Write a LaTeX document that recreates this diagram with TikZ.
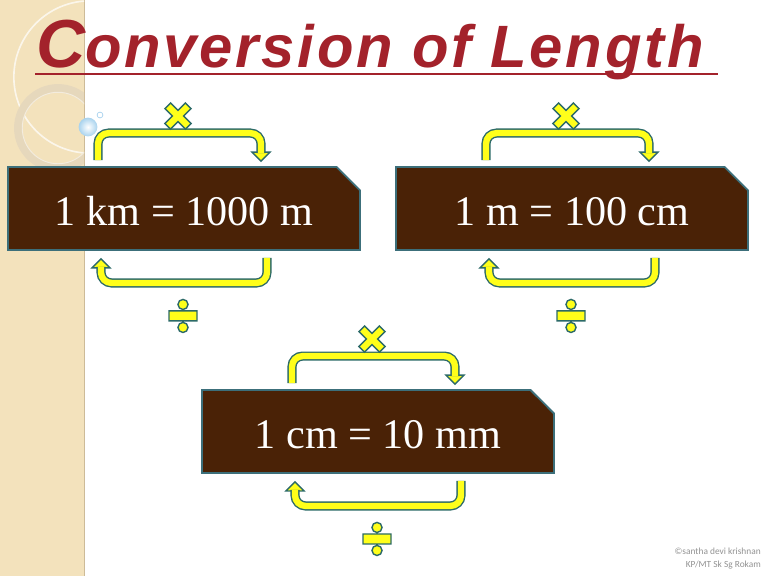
\documentclass[tikz,border=0pt]{standalone}
\usepackage{fontspec}
\usepackage{tikz}
\usetikzlibrary{calc,shapes.misc}
\setmainfont{Liberation Serif}
\newfontfamily\titlefont[LetterSpace=4.6]{Liberation Sans}
\newfontfamily\notefont{Carlito}
\definecolor{boxfill}{HTML}{4A2206}
\definecolor{boxline}{HTML}{3C6F7A}
\definecolor{signfill}{HTML}{FFFF1A}
\definecolor{signline}{HTML}{2C6A68}
\definecolor{titlered}{HTML}{A3222B}
\definecolor{stripfill}{HTML}{F3E2BC}
\definecolor{stripedge}{HTML}{CDBB98}
\definecolor{ringcol}{HTML}{E6D8BC}
\definecolor{bubble}{HTML}{A9D3EE}

\begin{document}
\begin{tikzpicture}[x=0.03cm,y=-0.03cm,
    unit/.style={chamfered rectangle,chamfered rectangle corners=north east,
        chamfered rectangle xsep=10pt,chamfered rectangle ysep=10pt,
        minimum width=10.56cm,minimum height=2.49cm,inner sep=0pt,
        text height=29pt,text depth=0pt,
        fill=boxfill,draw=boxline,line width=1.6pt,text=white,
        font=\fontsize{36}{40}\selectfont},
    band/.style={draw=signline,double=signfill,line width=1.2pt,double distance=5.4pt,rounded corners=9pt},
    head/.style={draw=signline,fill=signfill,line width=1.2pt,line join=miter},
    sign/.style={draw=signline,fill=signfill,line width=1.2pt,line join=miter},
    title/.style={text=titlered,font=\titlefont\bfseries\itshape\fontsize{51}{55}\selectfont,inner sep=0pt},
    note/.style={text=gray!85,font=\notefont\fontsize{8}{11}\selectfont,align=right,inner sep=0pt}]
\useasboundingbox (0,0) rectangle (768,576);
\fill[white] (0,0) rectangle (768,576);
\fill[stripfill] (0,0) rectangle (84,576);
\draw[stripedge,line width=1.5pt] (84.5,0) -- (84.5,576);
\begin{scope}
\clip (0,0) rectangle (84,576);
\draw[white!70!stripfill,line width=1.4pt] (90,77) circle[radius=65pt];
\draw[ringcol,line width=7pt] (58,128) circle[radius=34pt];
\draw[white!50!ringcol,line width=0.8pt] (58,128) circle[radius=30.5pt];
\end{scope}
\shade[inner color=white,outer color=bubble] (88,127) circle[radius=8pt];
\draw[bubble,line width=0.6pt] (100,115) circle[radius=2.5pt];

\node[title,anchor=base west] (title) at (36,67) {{\fontsize{58}{60}\selectfont C}onversion of Length};
\draw[titlered,line width=1.8pt] (35,74) -- (718,74);

\node[unit] (km) at (184,208.5) {1 km = 1000 m};
\node[unit] (m) at (572,208.5) {1 m = 100 cm};
\node[unit] (cm) at (378,431.5) {1 cm = 10 mm};

\draw[head] ($(km.north)+(68,-14)$) -- ++(9,9) -- ++(9,-9) -- cycle;
\draw[band] ($(km.north)+(-86,-6)$) |- ($(km.north)+(77,-33)$) -- ($(km.north)+(77,-13)$);
\draw[head] ($(km.south)+(-92,17)$) -- ++(9,-9) -- ++(9,9) -- cycle;
\draw[band] ($(km.south)+(83,7)$) |- ($(km.south)+(-83,32)$) -- ($(km.south)+(-83,16)$);
\draw[sign,shift={($(km.north)+(-6,-50)$)},rotate=45] (4,4) -- (14.5,4) -- (14.5,-4) -- (4,-4) -- (4,-14.5) -- (-4,-14.5) -- (-4,-4) -- (-14.5,-4) -- (-14.5,4) -- (-4,4) -- (-4,14.5) -- (4,14.5) -- cycle;
\draw[sign,shift={($(km.south)+(-1,65)$)}] (-14,-5) rectangle (14,5) (0,-11.5) circle[radius=4.3pt] (0,11.5) circle[radius=4.3pt];

\draw[head] ($(m.north)+(68,-14)$) -- ++(9,9) -- ++(9,-9) -- cycle;
\draw[band] ($(m.north)+(-86,-6)$) |- ($(m.north)+(77,-33)$) -- ($(m.north)+(77,-13)$);
\draw[head] ($(m.south)+(-92,17)$) -- ++(9,-9) -- ++(9,9) -- cycle;
\draw[band] ($(m.south)+(83,7)$) |- ($(m.south)+(-83,32)$) -- ($(m.south)+(-83,16)$);
\draw[sign,shift={($(m.north)+(-6,-50)$)},rotate=45] (4,4) -- (14.5,4) -- (14.5,-4) -- (4,-4) -- (4,-14.5) -- (-4,-14.5) -- (-4,-4) -- (-14.5,-4) -- (-14.5,4) -- (-4,4) -- (-4,14.5) -- (4,14.5) -- cycle;
\draw[sign,shift={($(m.south)+(-1,65)$)}] (-14,-5) rectangle (14,5) (0,-11.5) circle[radius=4.3pt] (0,11.5) circle[radius=4.3pt];

\draw[head] ($(cm.north)+(68,-14)$) -- ++(9,9) -- ++(9,-9) -- cycle;
\draw[band] ($(cm.north)+(-86,-6)$) |- ($(cm.north)+(77,-33)$) -- ($(cm.north)+(77,-13)$);
\draw[head] ($(cm.south)+(-92,17)$) -- ++(9,-9) -- ++(9,9) -- cycle;
\draw[band] ($(cm.south)+(83,7)$) |- ($(cm.south)+(-83,32)$) -- ($(cm.south)+(-83,16)$);
\draw[sign,shift={($(cm.north)+(-6,-50)$)},rotate=45] (4,4) -- (14.5,4) -- (14.5,-4) -- (4,-4) -- (4,-14.5) -- (-4,-14.5) -- (-4,-4) -- (-14.5,-4) -- (-14.5,4) -- (-4,4) -- (-4,14.5) -- (4,14.5) -- cycle;
\draw[sign,shift={($(cm.south)+(-1,65)$)}] (-14,-5) rectangle (14,5) (0,-11.5) circle[radius=4.3pt] (0,11.5) circle[radius=4.3pt];

\node[note,anchor=north east] (credit) at (761,548) {©santha devi krishnan\\KP/MT Sk Sg Rokam};
\end{tikzpicture}
\end{document}
